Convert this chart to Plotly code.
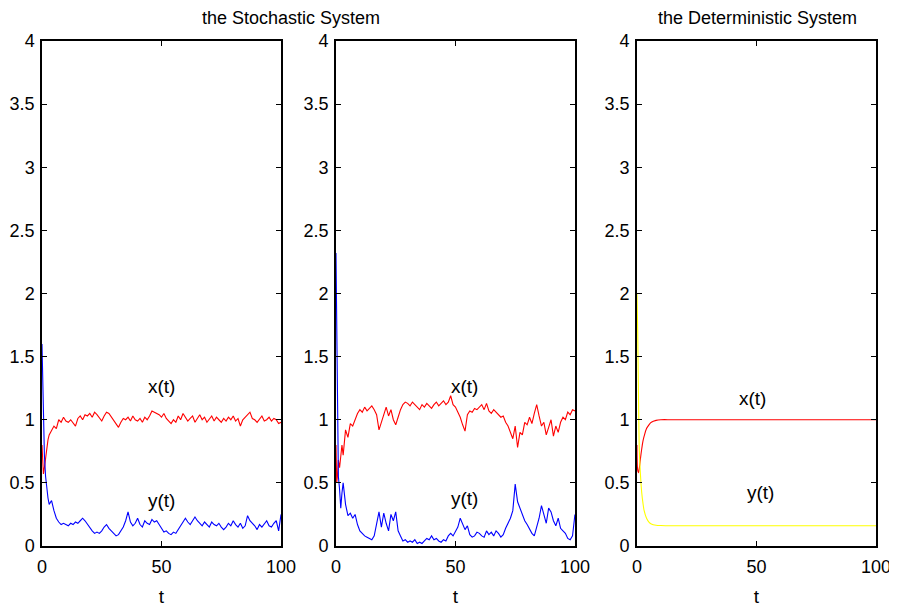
import plotly.graph_objects as go

# time grid for the stochastic runs
t_sto = [0, 0.3, 0.6, 1, 1.5, 2, 2.5, 3] + list(range(4, 101))

x_sto1 = [0.80, 0.62, 0.57, 0.62, 0.70, 0.78, 0.84, 0.88,
          0.92, 0.95, 0.93, 1.00, 0.98, 1.02, 0.99, 0.98, 1.00, 0.97, 0.95, 1.01, 1.03, 1.00, 1.04, 1.03, 1.05,
          1.02, 1.06, 1.04, 1.01, 0.99, 1.03, 1.06, 1.05, 1.02, 1.00, 0.97, 0.94, 0.98, 1.01, 1.00, 1.02, 0.99,
          1.03, 1.00, 0.99, 1.01, 0.98, 1.02, 1.00, 1.03, 1.07, 1.06, 1.05, 1.04, 1.02, 1.05, 1.01, 0.99, 0.97,
          1.00, 0.98, 1.03, 1.00, 1.05, 1.02, 0.99, 1.01, 1.03, 0.98, 1.01, 1.04, 1.00, 1.02, 0.98, 1.01, 1.03,
          0.99, 1.02, 1.00, 0.98, 1.01, 0.99, 1.02, 1.00, 1.03, 0.99, 1.01, 0.95, 1.00, 1.02, 1.04, 1.06, 1.01,
          1.00, 0.98, 1.01, 1.03, 0.99, 1.00, 1.02, 0.99, 1.01, 1.00, 0.97, 0.98]
y_sto1 = [1.60, 1.30, 0.95, 0.72, 0.55, 0.45, 0.38, 0.33,
          0.36, 0.28, 0.22, 0.19, 0.17, 0.18, 0.17, 0.16, 0.18, 0.17, 0.19, 0.18, 0.20, 0.22, 0.20, 0.17, 0.15,
          0.12, 0.10, 0.11, 0.10, 0.12, 0.15, 0.17, 0.14, 0.12, 0.10, 0.08, 0.09, 0.12, 0.15, 0.20, 0.27, 0.19,
          0.16, 0.18, 0.22, 0.17, 0.15, 0.20, 0.18, 0.17, 0.21, 0.19, 0.20, 0.17, 0.14, 0.11, 0.12, 0.10, 0.09,
          0.11, 0.10, 0.13, 0.17, 0.20, 0.22, 0.19, 0.17, 0.20, 0.23, 0.20, 0.18, 0.16, 0.19, 0.17, 0.15, 0.19,
          0.17, 0.16, 0.18, 0.15, 0.13, 0.15, 0.18, 0.16, 0.20, 0.17, 0.15, 0.18, 0.14, 0.16, 0.24, 0.20, 0.18,
          0.16, 0.13, 0.17, 0.15, 0.18, 0.20, 0.16, 0.15, 0.18, 0.20, 0.12, 0.25]

x_sto2 = [0.80, 0.50, 0.55, 0.68, 0.62, 0.75, 0.80, 0.72,
          0.92, 0.86, 0.97, 0.95, 1.00, 1.05, 1.08, 1.06, 1.10, 1.07, 1.09, 1.11, 1.08, 1.04, 0.92, 0.98, 1.05,
          1.10, 1.03, 1.08, 1.00, 0.96, 1.02, 1.08, 1.12, 1.14, 1.13, 1.11, 1.14, 1.12, 1.10, 1.08, 1.12, 1.10,
          1.13, 1.11, 1.09, 1.12, 1.14, 1.11, 1.13, 1.15, 1.12, 1.14, 1.19, 1.12, 1.10, 1.06, 1.02, 0.96, 0.91,
          1.04, 1.07, 1.06, 1.09, 1.08, 1.10, 1.12, 1.08, 1.13, 1.07, 1.05, 1.08, 1.06, 1.04, 1.02, 1.03, 0.98,
          0.95, 0.90, 0.85, 0.95, 0.78, 0.90, 0.88, 0.98, 0.96, 1.02, 0.97, 1.05, 1.12, 1.03, 0.95, 0.98, 0.88,
          0.94, 1.00, 0.87, 0.95, 0.90, 0.98, 1.02, 1.00, 1.06, 1.04, 1.08, 1.07]
y_sto2 = [2.32, 1.60, 0.90, 0.55, 0.45, 0.30, 0.42, 0.50,
          0.33, 0.24, 0.26, 0.22, 0.25, 0.17, 0.12, 0.10, 0.08, 0.07, 0.06, 0.05, 0.08, 0.18, 0.27, 0.15, 0.26,
          0.18, 0.12, 0.25, 0.20, 0.27, 0.12, 0.08, 0.04, 0.05, 0.03, 0.04, 0.03, 0.05, 0.02, 0.03, 0.02, 0.04,
          0.06, 0.05, 0.08, 0.05, 0.06, 0.04, 0.03, 0.05, 0.04, 0.08, 0.10, 0.08, 0.12, 0.15, 0.22, 0.18, 0.13,
          0.16, 0.09, 0.07, 0.08, 0.11, 0.10, 0.08, 0.07, 0.12, 0.09, 0.11, 0.08, 0.12, 0.10, 0.07, 0.09, 0.14,
          0.18, 0.22, 0.28, 0.49, 0.35, 0.30, 0.25, 0.20, 0.17, 0.13, 0.10, 0.08, 0.15, 0.22, 0.32, 0.25, 0.18,
          0.30, 0.27, 0.20, 0.16, 0.22, 0.14, 0.12, 0.10, 0.06, 0.05, 0.08, 0.25]

# deterministic system
t_det = [0, 0.3, 0.6, 1, 1.5, 2, 2.5, 3, 4, 5, 6, 8, 10, 15, 30, 60, 100]
x_det = [0.80, 0.60, 0.58, 0.62, 0.70, 0.77, 0.83, 0.87, 0.93, 0.96, 0.98, 0.995, 1.0, 1.0, 1.0, 1.0, 1.0]
y_det = [2.00, 1.70, 1.25, 0.75, 0.55, 0.42, 0.34, 0.28, 0.22, 0.19, 0.175, 0.165, 0.162, 0.16, 0.16, 0.16, 0.16]

y_ticks = [0, 0.5, 1, 1.5, 2, 2.5, 3, 3.5, 4]
y_ticklabels = ["0", "0.5", "1", "1.5", "2", "2.5", "3", "3.5", "4"]
x_ticks = [0, 50, 100]

titles = ["the Stochastic System", "the Deterministic System"]
curve_labels = ["x(t)", "y(t)"]
x_axis_label = "t"

FONT = "Liberation Sans, Arial, Helvetica, sans-serif"

fig = go.Figure()

panels = [
    (t_sto, x_sto1, y_sto1, "red", "blue", "", False),
    (t_sto, x_sto2, y_sto2, "red", "blue", "2", False),
    (t_det, x_det, y_det, "#ff0000", "#ffff00", "3", True),
]
for tt, xs, ys, cx, cy, sfx, smooth in panels:
    shape = "spline" if smooth else "linear"
    fig.add_trace(go.Scatter(x=tt, y=xs, mode="lines", xaxis="x" + sfx, yaxis="y" + sfx,
                             line=dict(color=cx, width=1.1, shape=shape), showlegend=False))
    fig.add_trace(go.Scatter(x=tt, y=ys, mode="lines", xaxis="x" + sfx, yaxis="y" + sfx,
                             line=dict(color=cy, width=1.1, shape=shape), showlegend=False))

domains = [(0.0, 0.2866), (0.3525, 0.639), (0.7134, 1.0)]
axis_common = dict(showline=True, linecolor="black", linewidth=1.5, mirror="ticks",
                   ticks="inside", ticklen=5, tickwidth=1, tickcolor="black",
                   showgrid=False, zeroline=False, automargin=False,
                   tickfont=dict(family=FONT, size=18, color="black"))
layout = {}
for i, dom in enumerate(domains):
    sfx = "" if i == 0 else str(i + 1)
    layout["xaxis" + sfx] = dict(axis_common, domain=dom, range=[0, 100], tickvals=x_ticks,
                                 anchor="y" + sfx, ticklabelstandoff=4,
                                 title=dict(text=x_axis_label, font=dict(family=FONT, size=19, color="black"),
                                            standoff=15))
    layout["yaxis" + sfx] = dict(axis_common, domain=[0, 1], range=[0, 4], tickvals=y_ticks,
                                 ticktext=y_ticklabels, anchor="x" + sfx, ticklabelstandoff=2)

fig.update_layout(**layout)

annots = []
# titles
title_y = (546 - 18) / 505
annots.append(dict(text=titles[0], xref="paper", yref="paper", x=(291 - 42) / 834, y=title_y,
                   yanchor="middle", xanchor="center", showarrow=False,
                   font=dict(family=FONT, size=18, color="black")))
annots.append(dict(text=titles[1], xref="paper", yref="paper", x=(757 - 42) / 834, y=title_y,
                   yanchor="middle", xanchor="center", showarrow=False,
                   font=dict(family=FONT, size=18, color="black")))
# curve labels
label_pos = [("x", "y", 50, 1.26, 50, 0.36),
             ("x2", "y2", 53.6, 1.26, 53.6, 0.38),
             ("x3", "y3", 48.5, 1.17, 51.5, 0.42)]
for xr, yr, xa, ya, xb, yb in label_pos:
    annots.append(dict(text=curve_labels[0], xref=xr, yref=yr, x=xa, y=ya, showarrow=False,
                       font=dict(family=FONT, size=19, color="black")))
    annots.append(dict(text=curve_labels[1], xref=xr, yref=yr, x=xb, y=yb, showarrow=False,
                       font=dict(family=FONT, size=19, color="black")))

# the page body adds an 8px margin, so the figure is shrunk by that amount
fig.update_layout(annotations=annots, width=889, height=599,
                  margin=dict(l=34, r=21, t=33, b=61),
                  paper_bgcolor="white", plot_bgcolor="white",
                  font=dict(family=FONT, color="black"))

fig.write_html("out.html")
